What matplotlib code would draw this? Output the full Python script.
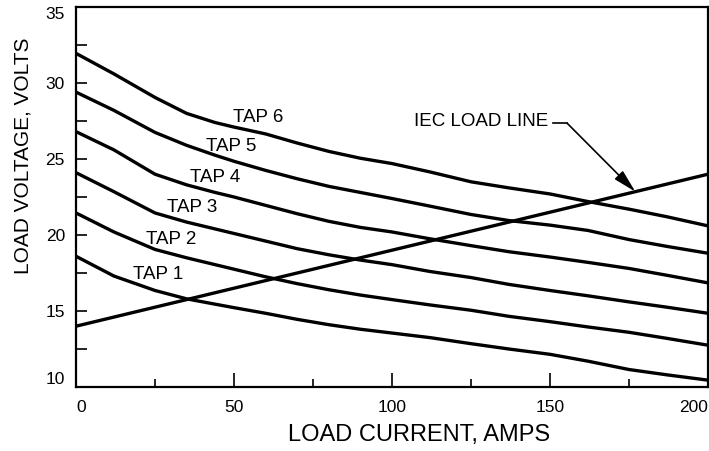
import matplotlib
matplotlib.use("Agg")
import matplotlib.pyplot as plt
from matplotlib.ticker import MultipleLocator

plt.rcParams['font.family'] = ['Liberation Sans', 'DejaVu Sans']

# ---- data ----
current = [0, 12, 25, 35, 44, 50, 60, 70, 80, 90, 100, 112, 125, 137, 150, 162, 175, 187, 200]
tap6 = [31.95, 30.6, 29.05, 28.0, 27.4, 27.1, 26.65, 26.05, 25.5, 25.05, 24.7, 24.15, 23.5, 23.1, 22.7, 22.2, 21.7, 21.2, 20.6]
tap5 = [29.4, 28.2, 26.75, 25.9, 25.25, 24.85, 24.25, 23.7, 23.2, 22.8, 22.4, 21.9, 21.35, 20.95, 20.65, 20.3, 19.7, 19.25, 18.8]
tap4 = [26.8, 25.6, 24.0, 23.3, 22.8, 22.5, 21.95, 21.4, 20.9, 20.5, 20.2, 19.75, 19.3, 18.9, 18.55, 18.2, 17.8, 17.35, 16.85]
tap3 = [24.1, 22.85, 21.45, 20.85, 20.4, 20.1, 19.6, 19.1, 18.7, 18.35, 18.05, 17.6, 17.2, 16.75, 16.35, 16.0, 15.6, 15.25, 14.85]
tap2 = [21.45, 20.2, 19.05, 18.5, 18.05, 17.75, 17.25, 16.8, 16.4, 16.05, 15.75, 15.4, 15.05, 14.65, 14.3, 13.95, 13.6, 13.2, 12.75]
tap1 = [18.6, 17.3, 16.35, 15.8, 15.45, 15.22, 14.85, 14.45, 14.1, 13.8, 13.55, 13.25, 12.85, 12.5, 12.15, 11.7, 11.15, 10.8, 10.45]

iec_current = [0, 200]
iec_voltage = [14.0, 24.0]

tap_names = ["TAP 1", "TAP 2", "TAP 3", "TAP 4", "TAP 5", "TAP 6"]
tap_series = [tap1, tap2, tap3, tap4, tap5, tap6]
# label anchor positions (data coords)
label_x = [25.9, 30.2, 36.7, 44.1, 49.0, 57.6]
label_y = [17.38, 19.69, 21.8, 23.77, 25.81, 27.72]

x_ticks = [0, 50, 100, 150, 200]
y_ticks = [10, 15, 20, 25, 30, 35]

# ---- figure ----
fig = plt.figure(figsize=(7.09, 4.51), dpi=100)
ax = fig.add_axes([76 / 709, (451 - 387) / 451, 632 / 709, 380 / 451])

lw = 2.4
for s in tap_series:
    ax.plot(current, s, color='black', lw=lw, solid_capstyle='butt', solid_joinstyle='round')
ax.plot(iec_current, iec_voltage, color='black', lw=lw, solid_capstyle='butt')

for name, lx, ly in zip(tap_names, label_x, label_y):
    ax.text(lx, ly, name, fontsize=13.5, ha='center', va='center')

# IEC load line annotation
ax.text(149.4, 27.5, "IEC LOAD LINE", fontsize=13.5, ha='right', va='center')
ax.plot([151.0, 155.4], [27.36, 27.36], color='black', lw=1.2)
ax.annotate('', xy=(177, 22.85), xytext=(155.4, 27.36),
            arrowprops=dict(arrowstyle='-|>,head_length=1.0,head_width=0.25',
                            mutation_scale=14, color='black', lw=1.2,
                            shrinkA=0, shrinkB=0))

ax.set_xlim(0, 200)
ax.set_ylim(10, 35)

ax.set_xticks(x_ticks)
ax.set_yticks(y_ticks)
ax.xaxis.set_minor_locator(MultipleLocator(25))
ax.yaxis.set_minor_locator(MultipleLocator(2.5))
ax.tick_params(axis='x', which='major', direction='in', length=10, width=1.2, labelsize=12.5, pad=9)
ax.tick_params(axis='x', which='minor', direction='in', length=6, width=1.2)
ax.tick_params(axis='y', which='both', direction='in', length=8, width=1.2, labelsize=12.5, pad=8)
ax.tick_params(top=False, right=False, which='both')

xl = ax.get_xticklabels()
xl[0].set_horizontalalignment('left')
xl[-1].set_horizontalalignment('right')
yl = ax.get_yticklabels()
yl[0].set_verticalalignment('bottom')
yl[-1].set_verticalalignment('top')

for sp in ax.spines.values():
    sp.set_linewidth(1.6)

ax.set_xlabel("LOAD CURRENT, AMPS", fontsize=17, va='center')
ax.xaxis.set_label_coords(0.543, -0.126)
ax.set_ylabel("LOAD VOLTAGE, VOLTS", fontsize=15, va='center')
ax.yaxis.set_label_coords(-0.0839, 0.608)

fig.savefig("out.png", dpi=100)
